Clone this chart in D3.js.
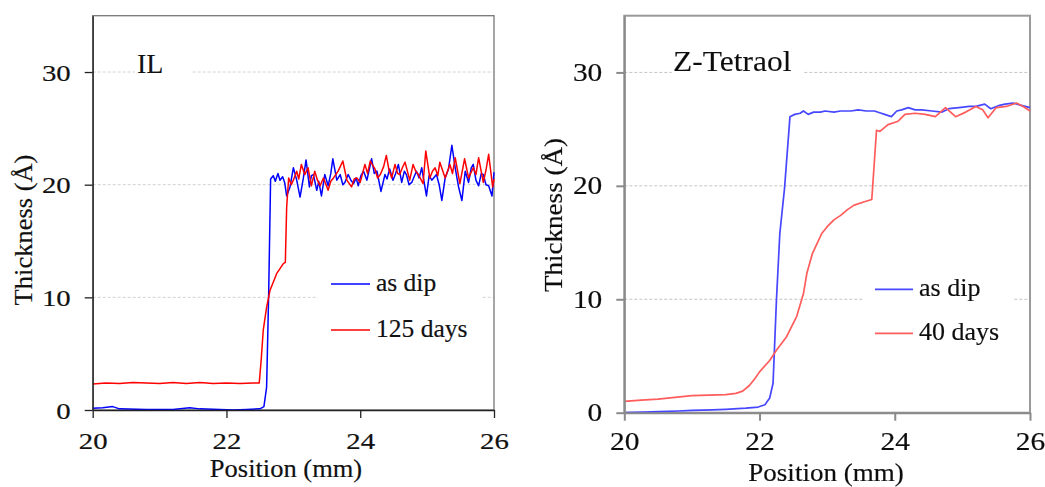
<!DOCTYPE html>
<html>
<head>
<meta charset="utf-8">
<script src="https://cdn.jsdelivr.net/npm/d3@7"></script>
<style>
  html, body { margin: 0; padding: 0; background: #fff; }
  svg { display: block; }
  text { font-family: "Liberation Serif", "Times New Roman", serif; fill: #111; stroke: #111; stroke-width: 0.18px; }
</style>
</head>
<body>
<svg id="chart" width="1045" height="487"></svg>
<script>
// Film thickness profiles across the dip boundary (position in mm, thickness in Å)

const xTicks = [20, 22, 24, 26];
const yTicks = [0, 10, 20, 30];

// IL film, as dipped
const ilAsDip = [
  [20.0, 0.15], [20.15, 0.2], [20.3, 0.3], [20.4, 0.1], [20.8, 0.05], [21.2, 0.05],
  [21.45, 0.2], [21.6, 0.1], [21.9, 0.05], [22.1, 0.0], [22.3, 0.05], [22.5, 0.1],
  [22.56, 0.3], [22.6, 2.0], [22.63, 10.0], [22.66, 20.5], [22.7, 20.8], [22.73, 20.3],
  [22.77, 21.0], [22.8, 20.4], [22.84, 20.7], [22.87, 20.2], [22.9, 19.0], [22.95, 19.8],
  [23.0, 21.5], [23.05, 20.4], [23.1, 18.9], [23.15, 20.6], [23.19, 22.2], [23.24, 19.8],
  [23.27, 20.8], [23.3, 20.9], [23.35, 19.5], [23.38, 20.3], [23.42, 19.0], [23.47, 20.9],
  [23.52, 19.9], [23.56, 21.0], [23.59, 22.3], [23.65, 20.4], [23.7, 20.9], [23.74, 20.0],
  [23.77, 20.2], [23.82, 20.9], [23.86, 20.4], [23.9, 20.1], [23.94, 20.6], [23.97, 19.9],
  [24.01, 20.8], [24.05, 21.2], [24.1, 20.4], [24.17, 22.3], [24.21, 21.0], [24.25, 21.2],
  [24.31, 19.4], [24.37, 20.9], [24.4, 20.5], [24.44, 21.4], [24.49, 20.4], [24.53, 21.0],
  [24.57, 21.8], [24.62, 20.2], [24.66, 21.2], [24.69, 20.9], [24.73, 20.0], [24.77, 20.2],
  [24.84, 21.2], [24.88, 20.6], [24.92, 21.5], [24.95, 20.4], [24.99, 19.0], [25.03, 20.8],
  [25.07, 20.4], [25.14, 20.9], [25.18, 20.0], [25.22, 18.6], [25.27, 20.6], [25.32, 21.4],
  [25.37, 23.5], [25.42, 21.5], [25.47, 19.8], [25.52, 18.6], [25.57, 21.2], [25.62, 20.2],
  [25.66, 21.5], [25.69, 21.8], [25.73, 20.4], [25.77, 19.9], [25.81, 21.0], [25.84, 20.9],
  [25.88, 20.0], [25.92, 19.9], [25.97, 19.0], [26.0, 21.1]
];

// IL film, after 125 days
const il125Days = [
  [20.0, 2.3], [20.2, 2.4], [20.4, 2.35], [20.6, 2.45], [20.8, 2.4], [21.0, 2.35],
  [21.2, 2.45], [21.4, 2.35], [21.6, 2.45], [21.8, 2.35], [22.0, 2.4], [22.2, 2.35],
  [22.4, 2.4], [22.49, 2.4], [22.52, 4.5], [22.55, 7.1], [22.6, 9.1], [22.65, 10.6],
  [22.75, 12.1], [22.85, 13.0], [22.88, 13.1], [22.9, 18.0], [22.93, 20.6], [22.97, 20.0],
  [23.0, 20.4], [23.05, 21.2], [23.08, 20.5], [23.12, 21.8], [23.17, 20.9], [23.22, 21.5],
  [23.27, 19.9], [23.32, 21.2], [23.36, 20.4], [23.4, 19.9], [23.45, 20.6], [23.52, 19.5],
  [23.56, 20.3], [23.6, 20.6], [23.67, 21.2], [23.74, 22.1], [23.8, 20.4], [23.87, 19.8],
  [23.91, 20.5], [23.95, 20.6], [24.0, 20.2], [24.07, 21.8], [24.11, 21.0], [24.15, 22.1],
  [24.22, 21.4], [24.26, 20.6], [24.3, 20.9], [24.35, 21.6], [24.39, 22.6], [24.43, 21.3],
  [24.47, 20.6], [24.52, 21.8], [24.56, 21.0], [24.59, 20.9], [24.63, 21.5], [24.67, 22.0],
  [24.74, 20.4], [24.79, 21.8], [24.83, 21.2], [24.87, 20.9], [24.94, 20.1], [24.98, 23.0],
  [25.04, 20.6], [25.08, 21.2], [25.12, 21.5], [25.16, 20.8], [25.19, 22.0], [25.27, 20.6],
  [25.34, 21.8], [25.38, 21.0], [25.42, 22.4], [25.49, 20.1], [25.56, 22.3], [25.62, 20.6],
  [25.69, 21.5], [25.73, 20.9], [25.77, 22.4], [25.84, 20.2], [25.88, 21.3], [25.92, 22.7],
  [25.98, 19.8], [26.0, 20.5]
];

// Z-Tetraol film, as dipped
const ztAsDip = [
  [20.0, 0.0], [20.3, 0.05], [20.5, 0.1], [20.8, 0.15], [21.0, 0.2], [21.3, 0.25],
  [21.5, 0.3], [21.8, 0.4], [21.98, 0.5], [22.08, 0.7], [22.15, 1.3], [22.2, 2.6],
  [22.25, 9.9], [22.3, 15.8], [22.37, 19.8], [22.45, 26.1], [22.52, 26.3], [22.6, 26.4],
  [22.65, 26.6], [22.72, 26.3], [22.8, 26.5], [22.9, 26.5], [22.97, 26.6], [23.1, 26.5],
  [23.2, 26.6], [23.35, 26.6], [23.46, 26.7], [23.58, 26.6], [23.7, 26.6], [23.8, 26.4],
  [23.85, 26.3], [23.95, 26.1], [24.03, 26.6], [24.1, 26.7], [24.2, 26.9], [24.3, 26.7],
  [24.4, 26.7], [24.55, 26.6], [24.7, 26.5], [24.8, 26.8], [24.95, 26.9], [25.1, 27.0],
  [25.2, 27.0], [25.33, 27.2], [25.42, 26.8], [25.55, 27.1], [25.63, 27.2], [25.75, 27.3],
  [25.87, 27.1], [26.0, 26.9]
];

// Z-Tetraol film, after 40 days
const zt40Days = [
  [20.0, 1.0], [20.25, 1.1], [20.5, 1.2], [20.75, 1.35], [21.0, 1.5], [21.25, 1.55],
  [21.5, 1.6], [21.65, 1.7], [21.75, 1.9], [21.85, 2.4], [21.93, 3.0], [22.0, 3.6],
  [22.15, 4.6], [22.25, 5.5], [22.4, 6.7], [22.55, 8.5], [22.65, 10.5], [22.7, 12.3],
  [22.78, 14.0], [22.85, 14.9], [22.92, 15.8], [23.0, 16.4], [23.1, 17.0], [23.2, 17.4],
  [23.3, 17.9], [23.4, 18.3], [23.55, 18.6], [23.66, 18.8], [23.73, 24.9], [23.78, 24.8],
  [23.9, 25.4], [24.05, 25.7], [24.15, 26.3], [24.3, 26.4], [24.45, 26.3], [24.6, 26.1],
  [24.75, 26.9], [24.9, 26.1], [25.05, 26.5], [25.2, 27.0], [25.3, 26.7], [25.38, 26.0],
  [25.5, 26.9], [25.65, 27.0], [25.8, 27.3], [25.9, 27.0], [26.0, 26.6]
];

const svg = d3.select("#chart");

// Gives a text element a size and a horizontal stretch around its own anchor
function styleText(sel, size, sx, dx, dy) {
  sel.attr("x", 0).attr("y", 0).attr("dy", null)
    .style("font-size", size + "px")
    .attr("transform", `translate(${dx},${dy}) scale(${sx},1)`);
}

function drawPanel(cfg) {
  const g = svg.append("g");
  if (cfg.filter) g.attr("filter", cfg.filter);

  const x = d3.scaleLinear().domain([20, 26]).range([cfg.left, cfg.right]);
  const y = d3.scaleLinear().domain([0, 35]).range([cfg.bottom, cfg.top]);

  // dashed gridlines
  g.append("g").selectAll("line").data(yTicks.filter(d => d > 0)).join("line")
    .attr("x1", cfg.left).attr("x2", cfg.right)
    .attr("y1", d => y(d)).attr("y2", d => y(d))
    .attr("stroke", cfg.gridColor).attr("stroke-width", 1)
    .attr("stroke-dasharray", "3,2");

  // white boxes behind the panel label and legend
  cfg.boxes.forEach(b => {
    g.append("rect").attr("x", b[0]).attr("y", b[1]).attr("width", b[2]).attr("height", b[3])
      .attr("fill", "#fff");
  });

  // plot frame
  g.append("rect")
    .attr("x", cfg.left).attr("y", cfg.top)
    .attr("width", cfg.right - cfg.left).attr("height", cfg.bottom - cfg.top)
    .attr("fill", "none").attr("stroke", cfg.frameColor).attr("stroke-width", cfg.frameWidth);

  // curves
  const line = d3.line().x(d => x(d[0])).y(d => y(d[1]));
  cfg.series.forEach(s => {
    g.append("path").datum(s.data)
      .attr("d", line)
      .attr("fill", "none")
      .attr("stroke", s.color)
      .attr("stroke-width", cfg.lineWidth)
      .attr("stroke-linejoin", "round");
  });

  // axes
  const ya = g.append("g").attr("transform", `translate(${cfg.left},0)`)
    .call(d3.axisLeft(y).tickValues(yTicks).tickSize(8).tickSizeOuter(0).tickFormat(d3.format("d")));
  const xa = g.append("g").attr("transform", `translate(0,${cfg.bottom})`)
    .call(d3.axisBottom(x).tickValues(xTicks).tickSize(8).tickSizeOuter(0).tickFormat(d3.format("d")));
  [ya, xa].forEach(a => {
    a.select(".domain").attr("stroke", cfg.axisColor).attr("stroke-width", cfg.frameWidth);
    a.selectAll(".tick line").attr("stroke", cfg.axisColor).attr("stroke-width", cfg.frameWidth);
    a.selectAll("text").attr("fill", "#0a0a0a").style("font-family", "Liberation Serif");
  });
  ya.selectAll(".tick text").call(styleText, cfg.tickSize, cfg.tickStretch, -22, 8)
    .attr("text-anchor", "end");
  xa.selectAll(".tick text").call(styleText, cfg.tickSize, cfg.tickStretch, 0, cfg.xTickBaseline)
    .attr("text-anchor", "middle");

  // axis titles
  g.append("text").text("Position (mm)")
    .attr("text-anchor", "middle")
    .call(styleText, cfg.titleSize, 1.06, cfg.xTitle[0], cfg.xTitle[1]);
  g.append("text").text("Thickness (Å)")
    .attr("text-anchor", "middle")
    .style("font-size", cfg.titleSize + "px")
    .attr("transform", `translate(${cfg.yTitle[0]},${cfg.yTitle[1]}) rotate(-90) scale(1.06,1)`);

  // panel label
  g.append("text").text(cfg.label)
    .attr("text-anchor", "start")
    .style("stroke-width", "0.1px")
    .call(styleText, cfg.labelSize, cfg.labelStretch, cfg.labelPos[0], cfg.labelPos[1]);

  // legend
  cfg.series.forEach((s, i) => {
    const ly = cfg.legend.y + i * cfg.legend.gap;
    g.append("line")
      .attr("x1", cfg.legend.x).attr("x2", cfg.legend.x + cfg.legend.len)
      .attr("y1", ly).attr("y2", ly)
      .attr("stroke", s.color).attr("stroke-width", cfg.lineWidth);
    g.append("text").text(s.name)
      .attr("text-anchor", "start")
      .call(styleText, cfg.legend.size, 1.0, cfg.legend.x + cfg.legend.len + 6, ly + 7);
  });
}

const defs = svg.append("defs");
defs.append("filter").attr("id", "soft").attr("x", "-5%").attr("y", "-5%")
  .attr("width", "110%").attr("height", "110%")
  .append("feGaussianBlur").attr("stdDeviation", 0.5);

drawPanel({
  left: 92.7, right: 494, top: 15.7, bottom: 410,
  frameColor: "#777", axisColor: "#222", frameWidth: 1.3, gridColor: "#d2d2d2",
  lineWidth: 1.5,
  tickSize: 24, tickStretch: 1.2, xTickBaseline: 39,
  titleSize: 25, xTitle: [286, 477], yTitle: [32, 230],
  label: "IL", labelSize: 28, labelStretch: 1.0, labelPos: [137, 72.5],
  boxes: [[135, 45, 57, 35], [318, 262, 164, 85]],
  legend: { x: 331, len: 39, y: 284, gap: 46, size: 25.5 },
  series: [
    { name: "as dip", color: "#0000ff", data: ilAsDip },
    { name: "125 days", color: "#ff0000", data: il125Days }
  ]
});

drawPanel({
  left: 624.3, right: 1030, top: 15.7, bottom: 412.7,
  frameColor: "#9a9a9a", axisColor: "#8a8a8a", frameWidth: 2, gridColor: "#c4c4c4",
  lineWidth: 1.7, filter: "url(#soft)",
  tickSize: 24.5, tickStretch: 1.2, xTickBaseline: 37,
  titleSize: 25.5, xTitle: [826, 481], yTitle: [562, 215],
  label: "Z-Tetraol", labelSize: 30, labelStretch: 1.05, labelPos: [673, 71],
  boxes: [[671.7, 45, 131.6, 40], [863.3, 270, 150, 85]],
  legend: { x: 875, len: 38, y: 289.3, gap: 44, size: 26 },
  series: [
    { name: "as dip", color: "#4747ff", data: ztAsDip },
    { name: "40 days", color: "#ff5c5c", data: zt40Days }
  ]
});
</script>
</body>
</html>
